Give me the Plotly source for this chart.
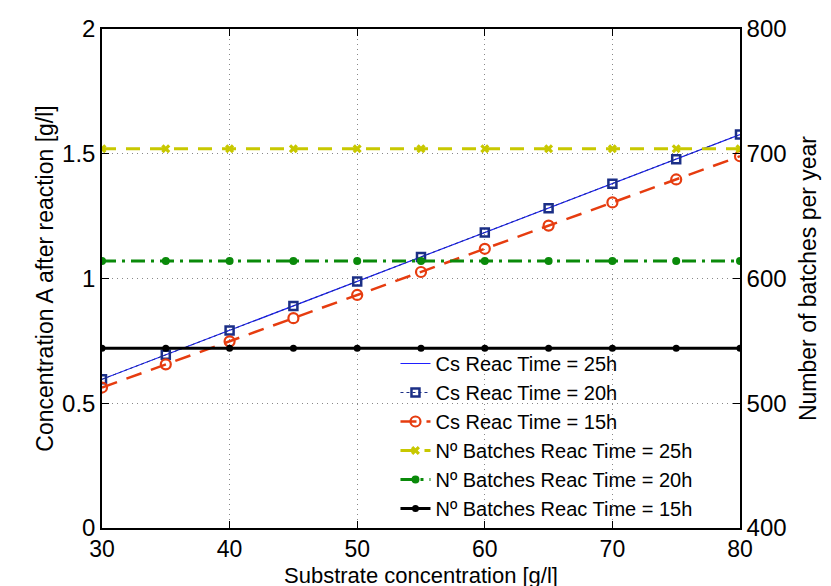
import plotly.graph_objects as go

# substrate concentration [g/l]
substrate = [30, 35, 40, 45, 50, 55, 60, 65, 70, 75, 80]

# concentration A after reaction [g/l]
cs_25h = [0.596, 0.694, 0.792, 0.890, 0.988, 1.086, 1.184, 1.282, 1.380, 1.478, 1.577]
cs_20h = [0.596, 0.694, 0.792, 0.890, 0.988, 1.086, 1.184, 1.282, 1.380, 1.478, 1.577]
cs_15h = [0.563, 0.656, 0.748, 0.841, 0.934, 1.026, 1.119, 1.212, 1.305, 1.397, 1.490]

# number of batches per year
batches_25h = [704] * 11
batches_20h = [614] * 11
batches_15h = [544] * 11

left_ticks = [0, 0.5, 1, 1.5, 2]
left_labels = ["0", "0.5", "1", "1.5", "2"]
right_ticks = [400, 500, 600, 700, 800]
x_ticks = [30, 40, 50, 60, 70, 80]

FONT = "Liberation Sans, Arial, sans-serif"

fig = go.Figure()

fig.add_trace(go.Scatter(x=substrate, y=cs_25h, mode='lines', name='Cs Reac Time = 25h',
                         line=dict(color='#1f1fff', width=1.2)))
fig.add_trace(go.Scatter(x=substrate, y=cs_20h, mode='lines+markers', name='Cs Reac Time = 20h',
                         line=dict(color='#1b2f86', width=1, dash='dot'),
                         marker=dict(symbol='square-open', size=8, line=dict(width=2.5, color='#1b2f86'))))
fig.add_trace(go.Scatter(x=substrate, y=cs_15h, mode='lines+markers', name='Cs Reac Time = 15h',
                         line=dict(color='#e63c0f', width=2.5, dash='16px,10px'),
                         marker=dict(symbol='circle-open', size=10, line=dict(width=2.2, color='#e63c0f'))))

fig.add_trace(go.Scatter(x=substrate, y=batches_25h, mode='lines+markers', yaxis='y2',
                         name='Nº Batches Reac Time = 25h',
                         line=dict(color='#c8c800', width=3, dash='14px,10px'),
                         marker=dict(symbol='x', size=8, color='#c8c800')))
fig.add_trace(go.Scatter(x=substrate, y=batches_20h, mode='lines+markers', yaxis='y2',
                         name='Nº Batches Reac Time = 20h',
                         line=dict(color='#0a8a0a', width=3, dash='14px,6px,3px,6px'),
                         marker=dict(symbol='circle', size=8, color='#0a8a0a')))
fig.add_trace(go.Scatter(x=substrate, y=batches_15h, mode='lines+markers', yaxis='y2',
                         name='Nº Batches Reac Time = 15h',
                         line=dict(color='black', width=3),
                         marker=dict(symbol='circle', size=7, color='black')))

fig.update_layout(
    width=831, height=586,
    margin=dict(l=94, r=99, t=21, b=66, autoexpand=False),
    paper_bgcolor='white', plot_bgcolor='white',
    font=dict(family=FONT, color='black', size=22),
    showlegend=True,
    legend=dict(x=0.46, y=0.0, xanchor='left', yanchor='bottom',
                bgcolor='rgba(0,0,0,0)', borderwidth=0,
                font=dict(size=20, family=FONT), tracegroupgap=0),
    xaxis=dict(range=[30, 80], tickvals=x_ticks, showgrid=True, gridcolor='#888',
               griddash='1px,4px', gridwidth=1, zeroline=False, automargin=False,
               showline=True, linecolor='black', linewidth=1.5, mirror='ticks',
               ticks='inside', ticklen=7, tickcolor='black', tickfont=dict(size=23)),
    yaxis=dict(range=[0, 2], tickvals=left_ticks, ticktext=left_labels, showgrid=True,
               gridcolor='#888', griddash='1px,4px', gridwidth=1, zeroline=False,
               showline=True, linecolor='black', linewidth=1.5, automargin=False,
               ticks='inside', ticklen=7, tickcolor='black', tickfont=dict(size=24),
               title=dict(text='Concentration A after reaction [g/l]', standoff=2, font=dict(size=23))),
    yaxis2=dict(range=[400, 800], tickvals=right_ticks, overlaying='y', side='right',
                showgrid=False, zeroline=False, showline=True, linecolor='black', linewidth=1.5,
                automargin=False,
                ticks='inside', ticklen=7, tickcolor='black', tickfont=dict(size=24),
                title=dict(text='Number of batches per year', standoff=14, font=dict(size=23))),
)

# x-axis title as annotation, placed a fixed number of pixels under the axis
fig.add_annotation(text='Substrate concentration [g/l]', xref='paper', yref='paper',
                   x=0.5, y=0, xanchor='center', yanchor='top', yshift=-33, showarrow=False,
                   font=dict(size=22, family=FONT, color='black'))

fig.write_html("out.html")
